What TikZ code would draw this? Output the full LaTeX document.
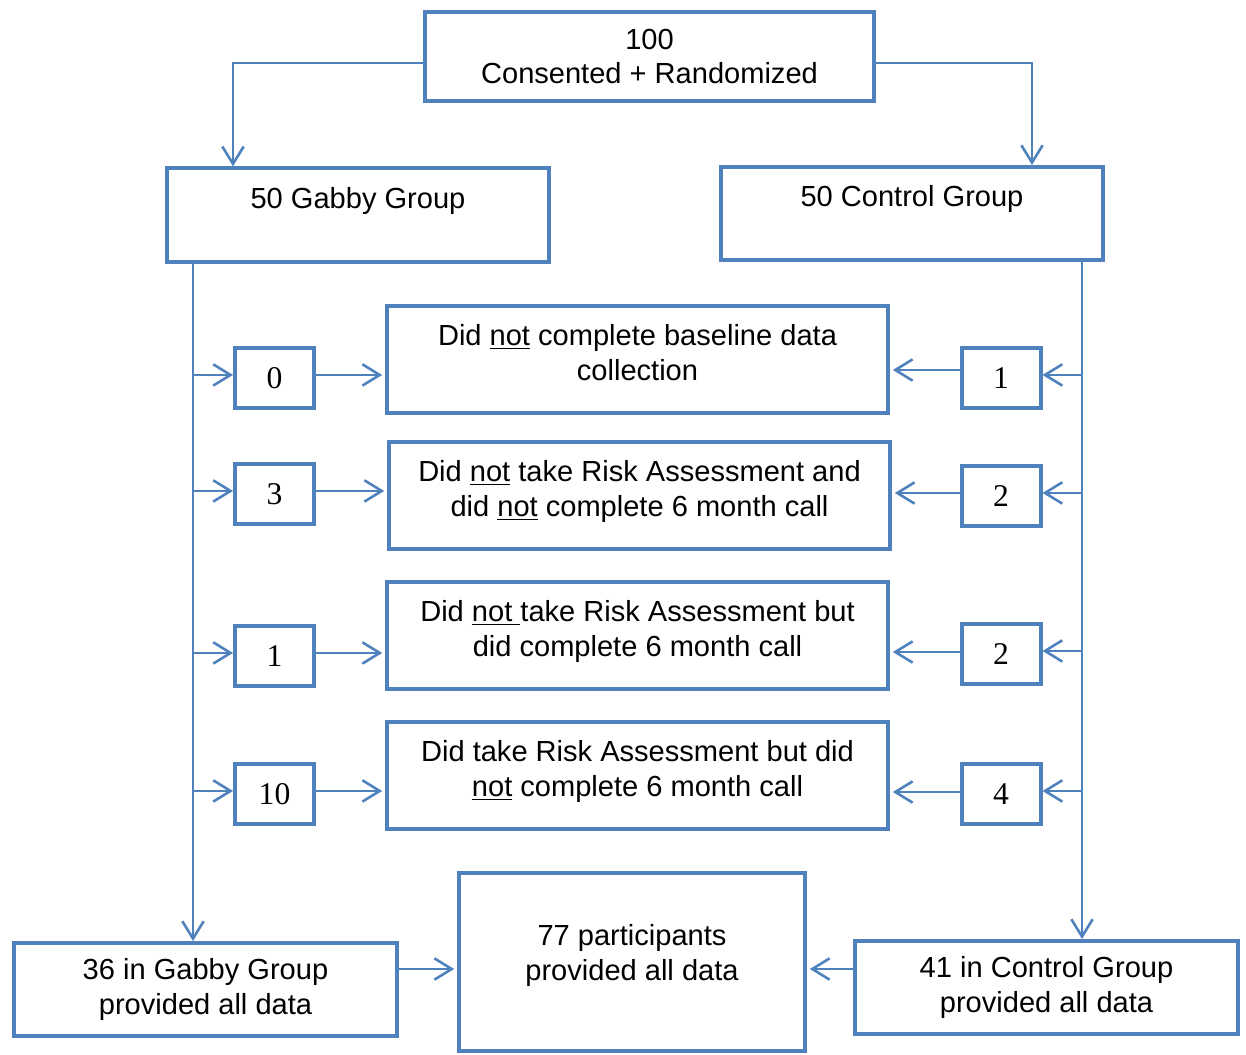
\documentclass[tikz,border=0pt]{standalone}
\usepackage{fontspec}
\setmainfont{Liberation Sans}
\newfontfamily\numfont{Liberation Serif}
\usepackage{xcolor}
\usepackage{tikz}
\usetikzlibrary{positioning, arrows.meta, calc}
\definecolor{boxblue}{HTML}{4F81BD}
\newcommand{\lowpad}[1]{\rule[-#1]{0pt}{0pt}}

\begin{document}
\begin{tikzpicture}[
    x=0.015cm, y=-0.015cm,
    font=\fontsize{12.4}{14.8}\selectfont,
    box/.style={draw=boxblue, line width=1.7pt, align=center, inner sep=0pt},
    wide/.style={box, minimum width=5.73cm, minimum height=1.4cm},
    reason/.style={box, minimum width=7.515cm, minimum height=1.605cm},
    count/.style={box, minimum width=1.185cm, minimum height=0.9cm, font=\numfont\fontsize{13.5}{16}\selectfont},
    conn/.style={draw=boxblue, line width=1.1pt},
    >={Straight Barb[length=2.6mm, width=3.2mm]}
]
\useasboundingbox (0,0) rectangle (1246,1055);

\node[box, minimum width=6.735cm, minimum height=1.335cm] (top) at (649.5,56.5) {100\\Consented + Randomized};
\node[wide] (gabby) at (358,215) {50 Gabby Group\\\phantom{X}};
\node[wide, minimum height=1.395cm] (control) at (912,213.5) {50 Control Group\\\phantom{X}};

\node[reason] (m1) at (637.5,359.5) {Did \underline{not} complete baseline data\\collection\lowpad{0.22cm}};
\node[reason] (m2) at (639.5,495.5) {Did \underline{not} take Risk Assessment and\\did \underline{not} complete 6 month call\lowpad{0.22cm}};
\node[reason] (m3) at (637.5,635.5) {Did \underline{not\ }take Risk Assessment but\\did complete 6 month call\lowpad{0.22cm}};
\node[reason] (m4) at (637.5,775.5) {Did take Risk Assessment but did\\\underline{not} complete 6 month call\lowpad{0.22cm}};

\node[count] (g1) at (274.5,378) {0};
\node[count] (g2) at (274.5,494) {3};
\node[count] (g3) at (274.5,656) {1};
\node[count] (g4) at (274.5,794) {10};
\node[count] (c1) at (1001,378) {1};
\node[count] (c2) at (1001,496) {2};
\node[count] (c3) at (1001,654) {2};
\node[count] (c4) at (1001,794) {4};

\node[box, minimum width=5.745cm, minimum height=1.395cm] (gdone) at (205.5,989.5) {36 in Gabby Group\\provided all data};
\node[box, minimum width=5.19cm, minimum height=2.67cm] (all) at (632,962) {77 participants\\provided all data\lowpad{0.28cm}};
\node[box, minimum width=5.745cm, minimum height=1.395cm] (cdone) at (1046.5,987.5) {41 in Control Group\\provided all data};

\coordinate (gx) at (233,0);
\coordinate (cx) at (1032,0);
\coordinate (lx) at (193,0);
\coordinate (rx) at (1082,0);

\draw[conn, ->] (top.west) ++(0,6.5) -| (gx|-gabby.north);
\draw[conn, ->] (top.east) ++(0,6.5) -| (cx|-control.north);
\draw[conn, ->] (lx|-gabby.south) -- (lx|-gdone.north);
\draw[conn, ->] (rx|-control.south) -- (rx|-cdone.north);

\foreach \g/\m in {g1/m1, g2/m2, g3/m3, g4/m4} {
    \draw[conn, ->] ([yshift=1.3pt]lx|-\g.west) -- ([yshift=1.3pt]\g.west);
    \draw[conn, ->] ([yshift=1.3pt]\g.east) -- ([yshift=1.3pt, xshift=-1.2pt]\g.east-|\m.west);
}
\foreach \c/\m/\o in {c1/m1/8, c2/m2/3, c3/m3/2, c4/m4/2} {
    \draw[conn, ->] ([yshift=1.3pt]rx|-\c.east) -- ([yshift=1.3pt]\c.east);
    \draw[conn, ->] ([yshift=\o*0.015cm]\c.west) -- ([yshift=\o*0.015cm, xshift=1.2pt]\c.west-|\m.east);
}

\draw[conn, ->] ([yshift=20.5*0.015cm]gdone.east) -- ([yshift=20.5*0.015cm, xshift=-1.2pt]gdone.east-|all.west);
\draw[conn, ->] ([yshift=18.5*0.015cm]cdone.west) -- ([yshift=18.5*0.015cm, xshift=1.2pt]cdone.west-|all.east);
\end{tikzpicture}
\end{document}
